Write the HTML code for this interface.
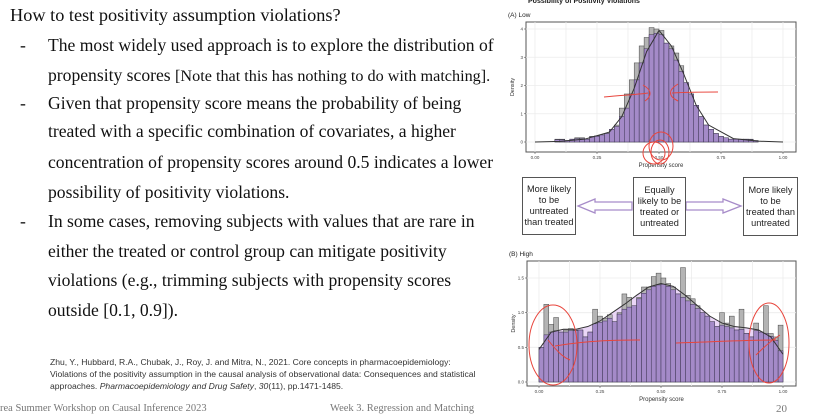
<!DOCTYPE html>
<html><head><meta charset="utf-8">
<style>
body{margin:0;width:826px;height:419px;background:#fff;overflow:hidden;position:relative;font-family:"Liberation Serif",serif;color:#111}
.t{position:absolute;white-space:nowrap;font-size:17.6px}
.ref{position:absolute;left:50px;font-family:"Liberation Sans",sans-serif;font-size:8.6px;color:#333;white-space:nowrap}
.ft{position:absolute;top:403px;font-size:10.5px;color:#777;white-space:nowrap}
.box{position:absolute;border:1px solid #555;font-family:"Liberation Sans",sans-serif;font-size:9.2px;line-height:11px;text-align:center;color:#222;display:flex;align-items:center;justify-content:center;background:#fff}
</style></head><body>
<div class="t" style="left:10px;top:5px;font-size:18.3px">How to test positivity assumption violations?</div>
<div class="t" style="left:20px;top:35px">-</div>
<div class="t" style="left:48px;top:35px">The most widely used approach is to explore the distribution of</div>
<div class="t" style="left:48px;top:65px">propensity scores <span style="font-size:16.2px">[Note that this has nothing to do with matching].</span></div>
<div class="t" style="left:20px;top:93px">-</div>
<div class="t" style="left:48px;top:93px">Given that propensity score means the probability of being</div>
<div class="t" style="left:48px;top:121px">treated with a specific combination of covariates, a higher</div>
<div class="t" style="left:48px;top:152px">concentration of propensity scores around 0.5 indicates a lower</div>
<div class="t" style="left:48px;top:182px">possibility of positivity violations.</div>
<div class="t" style="left:20px;top:211px">-</div>
<div class="t" style="left:48px;top:211px">In some cases, removing subjects with values that are rare in</div>
<div class="t" style="left:48px;top:241px">either the treated or control group can mitigate positivity</div>
<div class="t" style="left:48px;top:270px">violations (e.g., trimming subjects with propensity scores</div>
<div class="t" style="left:48px;top:300px">outside [0.1, 0.9]).</div>
<div class="ref" style="top:357px">Zhu, Y., Hubbard, R.A., Chubak, J., Roy, J. and Mitra, N., 2021. Core concepts in pharmacoepidemiology:</div>
<div class="ref" style="top:369px">Violations of the positivity assumption in the causal analysis of observational data: Consequences and statistical</div>
<div class="ref" style="top:381px">approaches. <i>Pharmacoepidemiology and Drug Safety</i>, <i>30</i>(11), pp.1471-1485.</div>
<div class="ft" style="left:0">rea Summer Workshop on Causal Inference 2023</div>
<div class="ft" style="left:330px">Week 3. Regression and Matching</div>
<div class="ft" style="left:776px;font-size:11px">20</div>

<svg id="charts" width="826" height="419" style="position:absolute;left:0;top:0" font-family="Liberation Sans, sans-serif"></svg>

<div class="box" style="left:522px;top:177px;width:52px;height:56px">More likely<br>to be<br>untreated<br>than treated</div>
<div class="box" style="left:633px;top:177px;width:51px;height:57px">Equally<br>likely to be<br>treated or<br>untreated</div>
<div class="box" style="left:743px;top:177px;width:53px;height:57px">More likely<br>to be<br>treated than<br>untreated</div>

<script>
const binsA = [0.09,0.11,0.13,0.15,0.17,0.19,0.21,0.23,0.25,0.27,0.29,0.31,0.33,0.35,0.37,0.39,0.41,0.43,0.45,0.47,0.49,0.51,0.53,0.55,0.57,0.59,0.61,0.63,0.65,0.67,0.69,0.71,0.73,0.75,0.77,0.79,0.81,0.83,0.85,0.87,0.89];
const grayA = [0.1,0.1,0.05,0.1,0.15,0.15,0.1,0.2,0.22,0.25,0.3,0.45,0.6,1.2,1.7,2.2,2.8,3.4,3.7,4.05,4.0,3.95,3.5,3.4,3.15,2.7,2.1,1.7,1.3,0.9,0.6,0.45,0.3,0.2,0.15,0.1,0.1,0.1,0.1,0.1,0.05];
const purpA = [0.08,0.08,0.05,0.1,0.12,0.12,0.1,0.18,0.2,0.25,0.3,0.45,0.55,0.9,1.2,1.7,2.2,2.8,3.3,3.8,3.85,3.8,3.5,3.3,2.9,2.5,2.1,1.7,1.3,0.9,0.6,0.45,0.3,0.2,0.15,0.1,0.1,0.1,0.1,0.08,0.05];
const curveAx = [0,0.1,0.2,0.3,0.35,0.4,0.45,0.5,0.55,0.6,0.65,0.7,0.8,0.9,1.0];
const curveAy = [0,0.02,0.1,0.35,0.9,1.9,3.2,3.95,3.4,2.4,1.3,0.6,0.12,0.03,0];
const ticksAy = [0,1,2,3,4];
const ticksX = ["0.00","0.25","0.50","0.75","1.00"];

const binsB = [0.01,0.03,0.05,0.07,0.09,0.11,0.13,0.15,0.17,0.19,0.21,0.23,0.25,0.27,0.29,0.31,0.33,0.35,0.37,0.39,0.41,0.43,0.45,0.47,0.49,0.51,0.53,0.55,0.57,0.59,0.61,0.63,0.65,0.67,0.69,0.71,0.73,0.75,0.77,0.79,0.81,0.83,0.85,0.87,0.89,0.91,0.93,0.95,0.97,0.99];
const grayB = [0.5,1.12,0.83,0.93,0.72,0.75,0.77,0.75,0.75,0.65,0.72,1.05,0.95,0.92,0.97,0.87,1.0,1.27,1.22,1.1,1.22,1.37,1.37,1.52,1.57,1.5,1.42,1.37,1.27,1.65,1.25,1.2,1.1,1.0,0.95,0.87,0.8,1.0,0.85,0.95,0.75,1.05,0.7,0.65,0.85,0.72,1.1,0.7,0.65,0.82];
const purpB = [0.5,0.68,0.72,0.74,0.72,0.72,0.74,0.74,0.75,0.65,0.72,0.84,0.86,0.88,0.92,0.87,0.98,1.05,1.08,1.1,1.2,1.28,1.33,1.38,1.4,1.41,1.38,1.33,1.27,1.22,1.17,1.12,1.06,1.0,0.95,0.87,0.8,0.82,0.8,0.78,0.75,0.76,0.7,0.65,0.74,0.72,0.7,0.66,0.6,0.45];
const curveBx = [0,0.05,0.1,0.15,0.2,0.25,0.3,0.35,0.4,0.45,0.5,0.55,0.6,0.65,0.7,0.75,0.8,0.85,0.9,0.95,1.0];
const curveBy = [0.47,0.72,0.76,0.76,0.8,0.88,1.0,1.12,1.25,1.37,1.42,1.38,1.25,1.1,0.95,0.85,0.8,0.78,0.75,0.65,0.4];
const ticksBy = [0,0.5,1,1.5];
const ticksBlabels = ["0.0","0.5","1.0","1.5"];

const svgRoot = document.getElementById('charts');
const NS = 'http://www.w3.org/2000/svg';
function mk(tag, attrs, parent){const e=document.createElementNS(NS,tag);for(const k in attrs)e.setAttribute(k,attrs[k]);(parent||svgRoot).appendChild(e);return e;}

function chart(o){
  const sx = v => o.x0 + v*(o.x1-o.x0);
  const sy = v => o.y0 - v/o.ymax*(o.y0-o.yTop);
  const g = mk('g',{});
  
  
  mk('rect',{x:o.px,y:o.py,width:o.pw,height:o.ph,fill:'#fff',stroke:'#555','stroke-width':1},g);
  [0,0.125,0.25,0.375,0.5,0.625,0.75,0.875,1].forEach(v=>mk('line',{x1:sx(v),x2:sx(v),y1:o.py,y2:o.py+o.ph,stroke:'#ececec','stroke-width':0.8},g));
  o.ticks.forEach(v=>mk('line',{x1:o.px,x2:o.px+o.pw,y1:sy(v),y2:sy(v),stroke:'#ececec','stroke-width':0.8},g));
  const w = 0.02*(o.x1-o.x0);
  if(o.shade){
    let d='M'+sx(o.cx[0])+','+sy(0);
    o.cx.forEach((x,i)=>d+=' L'+sx(x)+','+sy(o.cy[i]));
    d+=' L'+sx(o.cx[o.cx.length-1])+','+sy(0)+'Z';
    mk('path',{d:d,fill:'#ead6f7'},g);
  }
  o.bins.forEach((b,i)=>{
    const r=mk('rect',{x:sx(b)-w/2,y:sy(o.gray[i]),width:w,height:sy(0)-sy(o.gray[i]),fill:'#b4b4b4',stroke:'#444','stroke-width':0.5},g);
    
    
  });
  o.bins.forEach((b,i)=>{
    const r=mk('rect',{x:sx(b)-w/2,y:sy(o.purp[i]),width:w,height:sy(0)-sy(o.purp[i]),fill:'#a48ac8',stroke:'#3b3450','stroke-width':0.5},g);
    
    
  });
  let d='';
  o.cx.forEach((x,i)=>d+=(i?' L':'M')+sx(x)+','+sy(o.cy[i]));
  const c=mk('path',{d:d,fill:'none',stroke:'#333','stroke-width':1},g);
  
  
  o.ticks.forEach((v,i)=>{
    mk('line',{x1:o.px-2,x2:o.px,y1:sy(v),y2:sy(v),stroke:'#555','stroke-width':0.6},g);
    const t=mk('text',{x:o.px-3,y:sy(v)+1.5,'font-size':4.5,'text-anchor':'end',fill:'#444'},g);
    t.textContent=o.tlabels[i];
  });
  ticksX.forEach((l,i)=>{
    const v=i*0.25;
    mk('line',{x1:sx(v),x2:sx(v),y1:o.py+o.ph,y2:o.py+o.ph+2,stroke:'#555','stroke-width':0.6},g);
    const t=mk('text',{x:sx(v),y:o.py+o.ph+7,'font-size':4.5,'text-anchor':'middle',fill:'#444'},g);
    t.textContent=l;
  });
  const yt=mk('text',{x:0,y:0,'font-size':5.5,'text-anchor':'middle',fill:'#333',transform:'translate('+(o.px-12)+','+(o.py+o.ph/2)+') rotate(-90)'},g);
  
  
  yt.textContent='Density';
  const xt=mk('text',{x:(o.px+o.pw/2),y:o.py+o.ph+15,'font-size':6,'text-anchor':'middle',fill:'#333'},g);
  
  
  xt.textContent='Propensity score';
  const tt=mk('text',{x:o.px-18,y:o.py-5,'font-size':6.5,fill:'#222'},g);
  
  
  tt.textContent=o.title;
}

const figTitle=mk('text',{x:528,y:3,'font-size':7,'font-weight':'bold',fill:'#222'});


figTitle.textContent='Possibility of Positivity Violations';

chart({name:'chart-low',title:'(A) Low',px:526,py:22,pw:270,ph:130,x0:535,x1:783,y0:142,yTop:29,ymax:4,ticks:ticksAy,tlabels:ticksAy.map(String),bins:binsA,gray:grayA,purp:purpA,cx:curveAx,cy:curveAy,shade:false});
chart({name:'chart-high',title:'(B) High',px:527,py:261,pw:269,ph:125,x0:539,x1:783,y0:382,yTop:278,ymax:1.5,ticks:ticksBy,tlabels:ticksBlabels,bins:binsB,gray:grayB,purp:purpB,cx:curveBx,cy:curveBy,shade:true});

const arr='#a78cc9';
mk('path',{d:'M632,202 L595,202 L595,199 L578,206 L595,213 L595,210 L632,210 Z',fill:'#fff',stroke:arr,'stroke-width':1.3});
mk('path',{d:'M686,202 L723,202 L723,199 L741,206 L723,213 L723,210 L686,210 Z',fill:'#fff',stroke:arr,'stroke-width':1.3});

const red='#e8453c';
[['M604,97 C620,95 635,95 648,93','M643,85 C652,90 652,96 645,101'],
 ['M718,92 C705,92 690,92 672,93','M678,84 C668,90 668,96 678,101']].forEach(p=>p.forEach(d=>mk('path',{d:d,fill:'none',stroke:red,'stroke-width':1})));
mk('ellipse',{cx:661,cy:146,rx:12,ry:14,fill:'none',stroke:red,'stroke-width':1});
mk('ellipse',{cx:654,cy:153,rx:11,ry:11,fill:'none',stroke:red,'stroke-width':1});
mk('ellipse',{cx:660,cy:152,rx:9,ry:12,fill:'none',stroke:red,'stroke-width':1});
mk('ellipse',{cx:553,cy:345,rx:24,ry:40,fill:'none',stroke:red,'stroke-width':1});
mk('ellipse',{cx:769,cy:343,rx:20,ry:40,fill:'none',stroke:red,'stroke-width':1});
mk('path',{d:'M555,346 C590,340 620,340 640,340 M548,340 C560,355 565,358 570,360',fill:'none',stroke:red,'stroke-width':1});
mk('path',{d:'M676,343 C710,342 745,340 776,340 M756,355 C766,345 772,340 780,335',fill:'none',stroke:red,'stroke-width':1});
</script>
</body></html>
